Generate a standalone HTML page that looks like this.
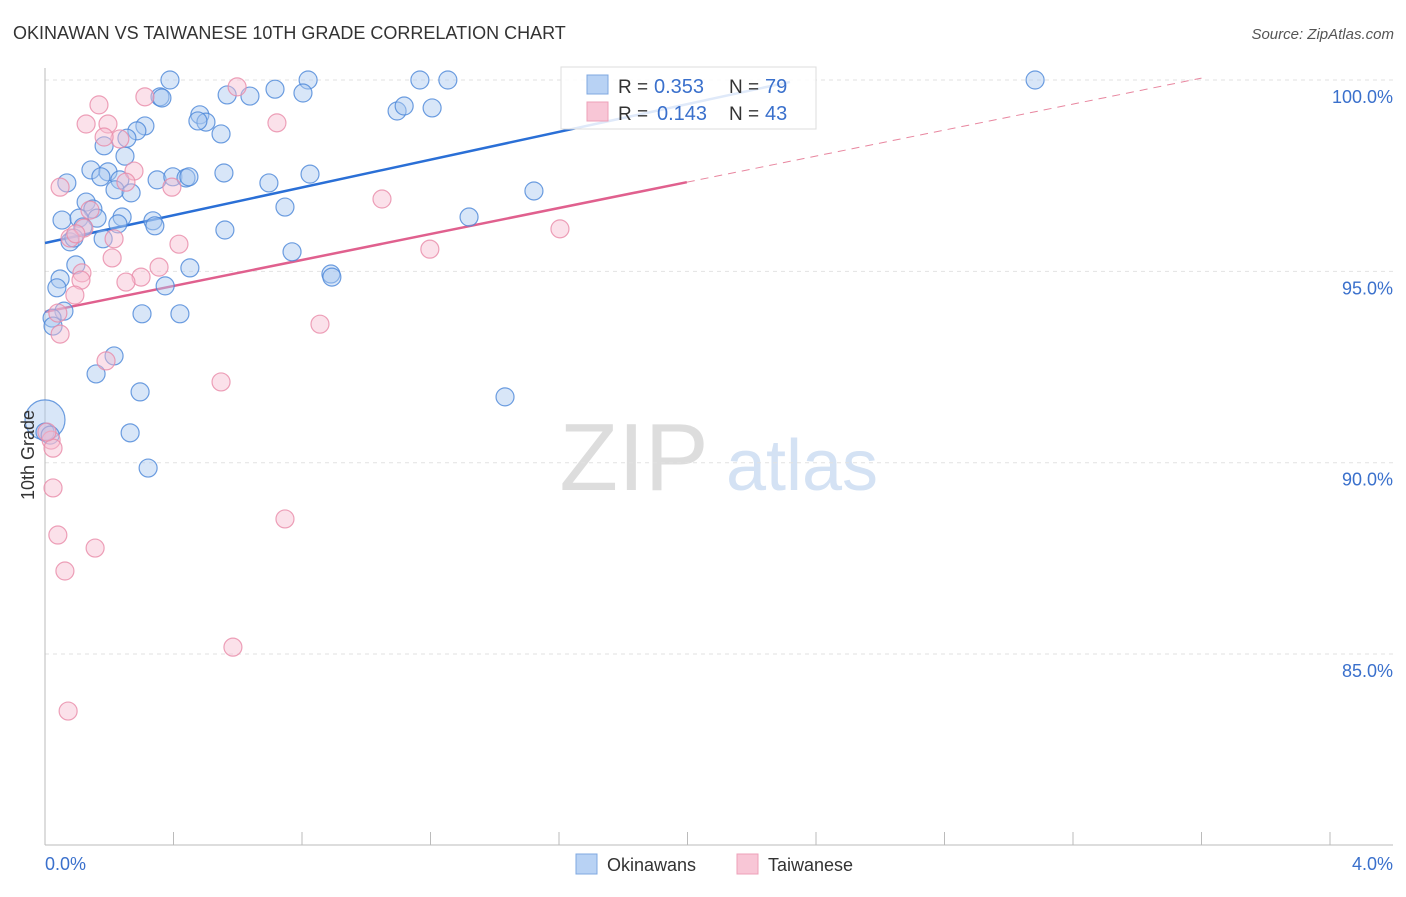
<!DOCTYPE html>
<html><head><meta charset="utf-8"><style>
body{margin:0;background:#fff;font-family:"Liberation Sans",sans-serif;}
svg text{font-family:"Liberation Sans",sans-serif;}
</style></head><body>
<svg id="chart" width="1406" height="892" viewBox="0 0 1406 892">
<text x="13" y="39" font-size="18" fill="#333">OKINAWAN VS TAIWANESE 10TH GRADE CORRELATION CHART</text>
<text x="1394" y="39" font-size="15" fill="#555" text-anchor="end" font-style="italic">Source: ZipAtlas.com</text>
<g>
<text x="634" y="490" font-size="96" fill="#ddd" text-anchor="middle" font-family="Liberation Serif">ZIP</text>
<text x="802" y="490" font-size="72" fill="#d4e2f4" text-anchor="middle">atlas</text>
</g>
<g id="grid"></g>
<g id="axes"></g>
<g id="lines"></g>
<g id="pts"></g>
<text transform="translate(34,455) rotate(-90)" font-size="18" fill="#333" text-anchor="middle">10th Grade</text>
<g>
<rect x="561" y="67" width="255" height="62" fill="#fff" fill-opacity="0.85" stroke="#ddd"/>
<rect x="587" y="75" width="21" height="19" fill="#b8d2f4" stroke="#7fa8e0"/>
<rect x="587" y="102" width="21" height="19" fill="#f8c6d6" stroke="#eea0b8"/>
<text x="618" y="93" font-size="19" fill="#333">R =</text>
<text x="654" y="93" font-size="20" fill="#3a70cc">0.353</text>
<text x="729" y="93" font-size="19" fill="#333">N =</text>
<text x="765" y="93" font-size="20" fill="#3a70cc">79</text>
<text x="618" y="120" font-size="19" fill="#333">R =</text>
<text x="657" y="120" font-size="20" fill="#3a70cc">0.143</text>
<text x="729" y="120" font-size="19" fill="#333">N =</text>
<text x="765" y="120" font-size="20" fill="#3a70cc">43</text>
</g>
<g>
<rect x="576" y="854" width="21" height="20" fill="#b8d2f4" stroke="#7fa8e0"/>
<text x="607" y="871" font-size="18" fill="#333">Okinawans</text>
<rect x="737" y="854" width="21" height="20" fill="#f8c6d6" stroke="#eea0b8"/>
<text x="768" y="871" font-size="18" fill="#333">Taiwanese</text>
</g>
</svg>
<script>
const blueX=[0.389,0.819,1.167,1.254,3.082,0.358,0.364,0.567,0.638,0.716,0.803,0.482,0.501,0.476,0.548,0.311,0.286,0.255,0.184,0.249,1.096,1.118,1.205,0.143,0.196,0.174,0.233,0.218,0.268,0.068,0.349,0.398,0.439,0.448,0.557,0.697,0.825,0.747,1.522,0.128,0.149,0.053,0.106,0.162,0.240,0.227,0.336,0.342,0.560,1.320,0.118,0.078,0.090,0.181,0.769,0.096,0.451,0.890,0.893,0.047,0.037,0.374,0.059,0.022,0.025,0.302,0.420,0.215,0.159,0.296,1.432,0.0,0.0,0.016,0.265,0.321];
const blueY=[100,100,100,100,100,99.56,99.53,99.61,99.58,99.76,99.66,99.09,98.90,98.93,98.59,98.80,98.67,98.48,98.28,98.01,99.19,99.32,99.27,97.65,97.60,97.47,97.39,97.13,97.05,97.31,97.39,97.47,97.44,97.47,97.57,97.31,97.54,96.68,97.10,96.81,96.63,96.34,96.39,96.39,96.42,96.24,96.32,96.19,96.08,96.42,96.16,95.77,95.87,95.85,95.51,95.17,95.09,94.93,94.85,94.80,94.57,94.62,93.96,93.78,93.57,93.89,93.89,92.79,92.32,91.85,91.72,91.12,90.80,90.72,90.78,89.86];
const pinkX=[0.598,0.311,0.168,0.128,0.196,0.233,0.184,0.722,0.277,0.252,0.047,0.395,1.049,0.140,0.121,0.078,0.096,0.215,0.417,1.198,1.603,0.209,0.355,0.299,0.115,0.112,0.252,0.093,0.856,0.040,0.047,0.190,0.548,0.019,0.025,0.025,0.040,0.156,0.062,0.747,0.585,0.072,0.006];
const pinkY=[99.82,99.56,99.35,98.85,98.85,98.46,98.51,98.88,97.62,97.33,97.20,97.20,96.89,96.60,96.13,95.87,95.98,95.85,95.71,95.58,96.11,95.35,95.11,94.85,94.96,94.77,94.72,94.38,93.62,93.91,93.36,92.66,92.11,90.59,90.38,89.34,88.11,87.77,87.17,88.53,85.18,83.51,90.80];
const xTicks=[0,0.4,0.8,1.2,1.6,2.0,2.4,2.8,3.2,3.6,4.0];
const yTicks=[100,95,90,85];
const yTickLabels=["100.0%","95.0%","90.0%","85.0%"];
const blueTrend=[0,95.74,2.319,99.95];
const pinkTrend=[0,93.94,1.998,97.33];
const pinkDash=[1.998,97.33,3.6,100.05];

const NS="http://www.w3.org/2000/svg";
const sx=v=>45+v*321.25;
const sy=v=>80+(100-v)*38.27;
function mk(p,tag,attrs){const e=document.createElementNS(NS,tag);for(const k in attrs)e.setAttribute(k,attrs[k]);document.getElementById(p).appendChild(e);return e;}
yTicks.forEach((t,i)=>{
 const g=mk('grid','line',{x1:45,x2:1393,y1:sy(t),y2:sy(t),stroke:'#e2e2e2','stroke-dasharray':'4,4'});
 
 
 const l=mk('axes','text',{x:1393,y:sy(t)+23,'font-size':18,fill:'#3a70cc','text-anchor':'end'});
 l.textContent=yTickLabels[i];
 
 
});
const ax=mk('axes','line',{x1:45,x2:45,y1:68,y2:845,stroke:'#bbb'});


const bx=mk('axes','line',{x1:45,x2:1393,y1:845,y2:845,stroke:'#bbb'});


xTicks.forEach(t=>{
 const k=mk('axes','line',{x1:sx(t),x2:sx(t),y1:832,y2:845,stroke:'#bbb'});
 
 
});
const x0=mk('axes','text',{x:45,y:870,'font-size':18,fill:'#3a70cc'});x0.textContent=xTicks[0].toFixed(1)+'%';


const x1=mk('axes','text',{x:1393,y:870,'font-size':18,fill:'#3a70cc','text-anchor':'end'});x1.textContent=xTicks[xTicks.length-1].toFixed(1)+'%';



function pts(X,Y,fill,stroke,name){
 X.forEach((v,i)=>{
  const r=(i===71&&name==='okinawan-point')?20:9;
  const c=mk('pts','circle',{cx:sx(v),cy:sy(Y[i]),r:r,fill:fill,'fill-opacity':0.45,stroke:stroke,'stroke-opacity':0.8,'stroke-width':1.2});
  
  
 });
}
pts(blueX,blueY,'#a9c8f0','#4a86d8','okinawan-point');
pts(pinkX,pinkY,'#f6bcd0','#e88aa8','taiwanese-point');
const bl=mk('lines','line',{x1:sx(blueTrend[0]),y1:sy(blueTrend[1]),x2:sx(blueTrend[2]),y2:sy(blueTrend[3]),stroke:'#2a6fd6','stroke-width':2.5});


const pl=mk('lines','line',{x1:sx(pinkTrend[0]),y1:sy(pinkTrend[1]),x2:sx(pinkTrend[2]),y2:sy(pinkTrend[3]),stroke:'#e0608e','stroke-width':2.5});


const pd=mk('lines','line',{x1:sx(pinkDash[0]),y1:sy(pinkDash[1]),x2:sx(pinkDash[2]),y2:sy(pinkDash[3]),stroke:'#e8869f','stroke-width':1,'stroke-dasharray':'8,6'});


</script>
</body></html>
